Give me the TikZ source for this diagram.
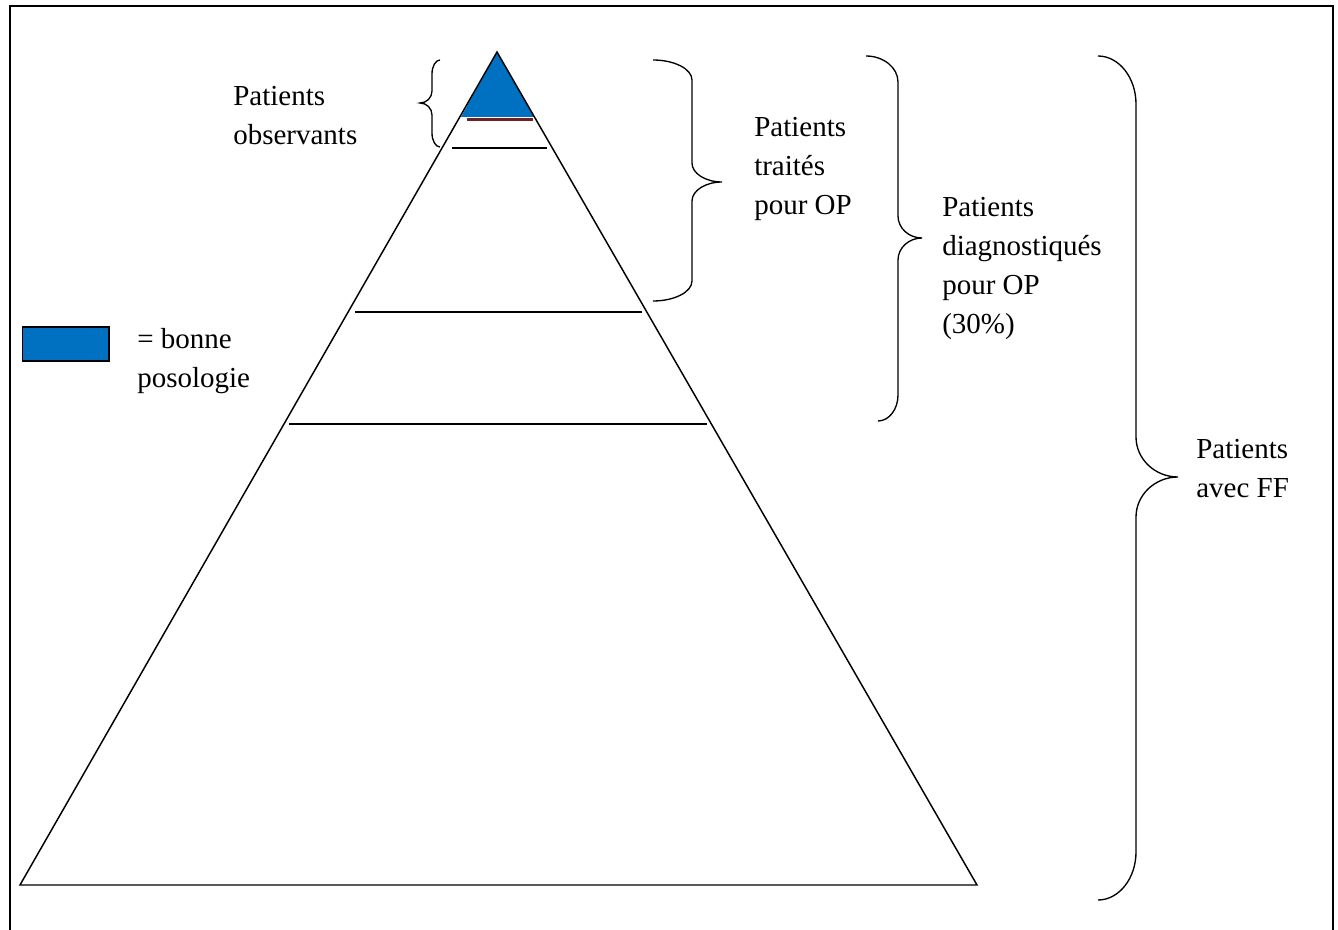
\documentclass[tikz,border=0pt]{standalone}
\usepackage{fontspec}
\setmainfont{Liberation Serif}
\definecolor{posoblue}{RGB}{0,112,192}
\definecolor{levelbrown}{RGB}{112,32,32}
% curly brace: x of the top end, top y, bottom y, x of the spine,
% tip x, tip y, height of the end curls, height of the tip curls, x of the bottom end
\newcommand{\curlybrace}[9]{%
  \draw[bracestroke] (#1,#2)
    .. controls ({#1+0.55*(#4-#1)},#2) and (#4,{#2+0.45*#7}) .. (#4,{#2+#7})
    -- (#4,{#6-#8})
    .. controls (#4,{#6-0.45*#8}) and ({#5-0.55*(#5-#4)},#6) .. (#5,#6)
    .. controls ({#5-0.55*(#5-#4)},#6) and (#4,{#6+0.45*#8}) .. (#4,{#6+#8})
    -- (#4,{#3-#7})
    .. controls (#4,{#3-0.45*#7}) and ({#9+0.55*(#4-#9)},#3) .. (#9,#3);}
\begin{document}
\begin{tikzpicture}[x=0.75pt,y=-0.75pt,
  frame/.style={line width=1.5pt},
  edge/.style={line width=1.1pt, line join=miter},
  level/.style={line width=1.3pt},
  bracestroke/.style={line width=1pt},
  label/.style={anchor=north west, inner sep=0pt, align=left,
    font=\fontsize{21.75pt}{29.25pt}\selectfont}]
\useasboundingbox (0,0) rectangle (1338,930);
\fill[white] (0,0) rectangle (1338,930);
% page frame
\draw[frame] (9.5,935) -- (9.5,6.5) -- (1333,6.5) -- (1333,935);

% pyramid corners
\coordinate (apex) at (497,52);
\coordinate (bl) at (20,885);
\coordinate (br) at (977,885);

% top part: well-dosed patients
\fill[posoblue] (apex) -- (461,117) -- (534,117) -- cycle;
\draw[levelbrown, line width=2.4pt] (467,119.5) -- (533,119.5);

% pyramid outline and levels
\draw[edge] (apex) -- (bl) -- (br) -- cycle;
\draw[level] (452,148) -- (547,148);
\draw[level] (355,312) -- (642,312);
\draw[level] (289,424) -- (707,424);

% braces
\curlybrace{440}{60}{147}{432}{420}{103}{14}{12}{440}
\curlybrace{653}{60}{301}{692}{722}{182}{20}{19}{653}
\curlybrace{866}{56}{421}{898}{922}{238}{26}{22}{878}
\curlybrace{1098}{56}{900}{1136}{1178}{477}{48}{40}{1098}

% labels
\node[label] (obs) at (233,86) {Patients\\observants};
\node[label] (trt) at (754,117) {Patients\\traités\\pour OP};
\node[label] (diag) at (942,197) {Patients\\diagnostiqués\\pour OP\\(30\%)};
\node[label] (ff) at (1196,439) {Patients\\avec FF};

% legend
\node[draw, line width=1.4pt, fill=posoblue, inner sep=0pt,
  minimum width=65pt, minimum height=25pt, anchor=north west] (key) at (21.5,326.5) {};
\node[label] (keytxt) at (137,328) {= bonne\\posologie};
\end{tikzpicture}
\end{document}
